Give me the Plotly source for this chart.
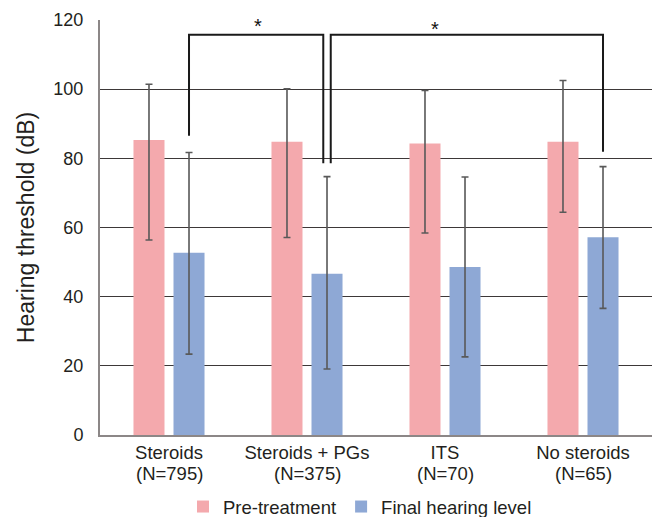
import plotly.graph_objects as go

# ---- data ----
categories = ["Steroids", "Steroids + PGs", "ITS", "No steroids"]
n_labels = ["(N=795)", "(N=375)", "(N=70)", "(N=65)"]
pre_mean = [85.3, 84.8, 84.3, 84.8]
pre_upper = [101.4, 100.1, 99.6, 102.5]
pre_lower = [56.4, 57.1, 58.4, 64.4]
final_mean = [52.7, 46.6, 48.6, 57.2]
final_upper = [81.7, 74.7, 74.6, 77.6]
final_lower = [23.4, 19.1, 22.6, 36.6]
y_ticks = [0, 20, 40, 60, 80, 100, 120]
# significance brackets: (from group, to group, top, left leg end, right leg end)
brackets = [(0, 1, 115.7, 86.5, 78.6), (1, 3, 115.7, 78.6, 81.9)]
star_pos = [(0.648, 119.1), (1.928, 118.3)]

PINK = "#F4A9AD"
BLUE = "#8EA8D5"
FONT = "Liberation Sans, Arial, Helvetica, sans-serif"
TXT = "#231f20"

xs = list(range(len(categories)))
BARGAP = 0.42
BARGROUPGAP = 0.225
blue_off = (1 - BARGAP) / 4  # center offset of the 2nd bar in a group

fig = go.Figure()
fig.add_trace(go.Bar(
    x=xs, y=pre_mean, name="Pre-treatment", marker=dict(color=PINK, line=dict(width=0)),
    error_y=dict(type="data", symmetric=False,
                 array=[u - m for u, m in zip(pre_upper, pre_mean)],
                 arrayminus=[m - l for l, m in zip(pre_lower, pre_mean)],
                 color="#595959", thickness=1.6, width=3.5),
))
fig.add_trace(go.Bar(
    x=xs, y=final_mean, name="Final hearing level", marker=dict(color=BLUE, line=dict(width=0)),
    error_y=dict(type="data", symmetric=False,
                 array=[u - m for u, m in zip(final_upper, final_mean)],
                 arrayminus=[m - l for l, m in zip(final_lower, final_mean)],
                 color="#595959", thickness=1.6, width=3.5),
))

inner = 0.027
shapes = []
for k, (a, b, top, yl, yr) in enumerate(brackets):
    xa = a + blue_off + (inner if k > 0 else 0)
    xb = b + blue_off - (inner if k == 0 else 0)
    shapes.append(dict(type="path", xref="x", yref="y",
                       path=f"M {xa} {yl} L {xa} {top} L {xb} {top} L {xb} {yr}",
                       line=dict(color="#1a1a1a", width=2)))

annotations = [dict(x=sx, y=sy, xref="x", yref="y", text="*", showarrow=False,
                    font=dict(size=20, color="#111111", family=FONT), yanchor="middle",
                    yshift=-3)
               for sx, sy in star_pos]
# second line of the category labels
for x, n in zip(xs, n_labels):
    annotations.append(dict(x=x, y=-0.0916, xref="x", yref="paper", text=n,
                            showarrow=False, yanchor="middle", borderpad=0,
                            font=dict(size=18.5, color=TXT, family=FONT)))

fig.update_layout(
    width=656, height=517,
    margin=dict(l=100, r=4, t=20, b=82, autoexpand=False),
    paper_bgcolor="white", plot_bgcolor="white",
    barmode="group", bargap=BARGAP, bargroupgap=BARGROUPGAP,
    font=dict(family=FONT, size=18, color=TXT),
    shapes=shapes, annotations=annotations,
    showlegend=True,
    legend=dict(orientation="h", x=0.471, xanchor="center", y=-0.1735, yanchor="middle",
                font=dict(size=18.5, color=TXT), itemwidth=30, tracegroupgap=0,
                bgcolor="rgba(0,0,0,0)"),
    xaxis=dict(range=[-0.5, 3.5], tickmode="array", tickvals=xs,
               ticktext=categories, automargin=False,
               showgrid=False, zeroline=False, showline=True, linecolor="#8c8787",
               linewidth=2, ticks="", ticklabelstandoff=0,
               tickfont=dict(size=18.5, color=TXT)),
    yaxis=dict(range=[0, 120], tickmode="array", tickvals=y_ticks, automargin=False,
               showgrid=True, gridcolor="#3d3838", gridwidth=1, zeroline=False,
               showline=True, linecolor="#8c8787", linewidth=2, ticks="",
               ticklabelstandoff=11, tickfont=dict(size=18, color=TXT),
               title=dict(text="Hearing threshold (dB)", font=dict(size=23, color=TXT),
                          standoff=12)),
)

fig.write_html("out.html")
